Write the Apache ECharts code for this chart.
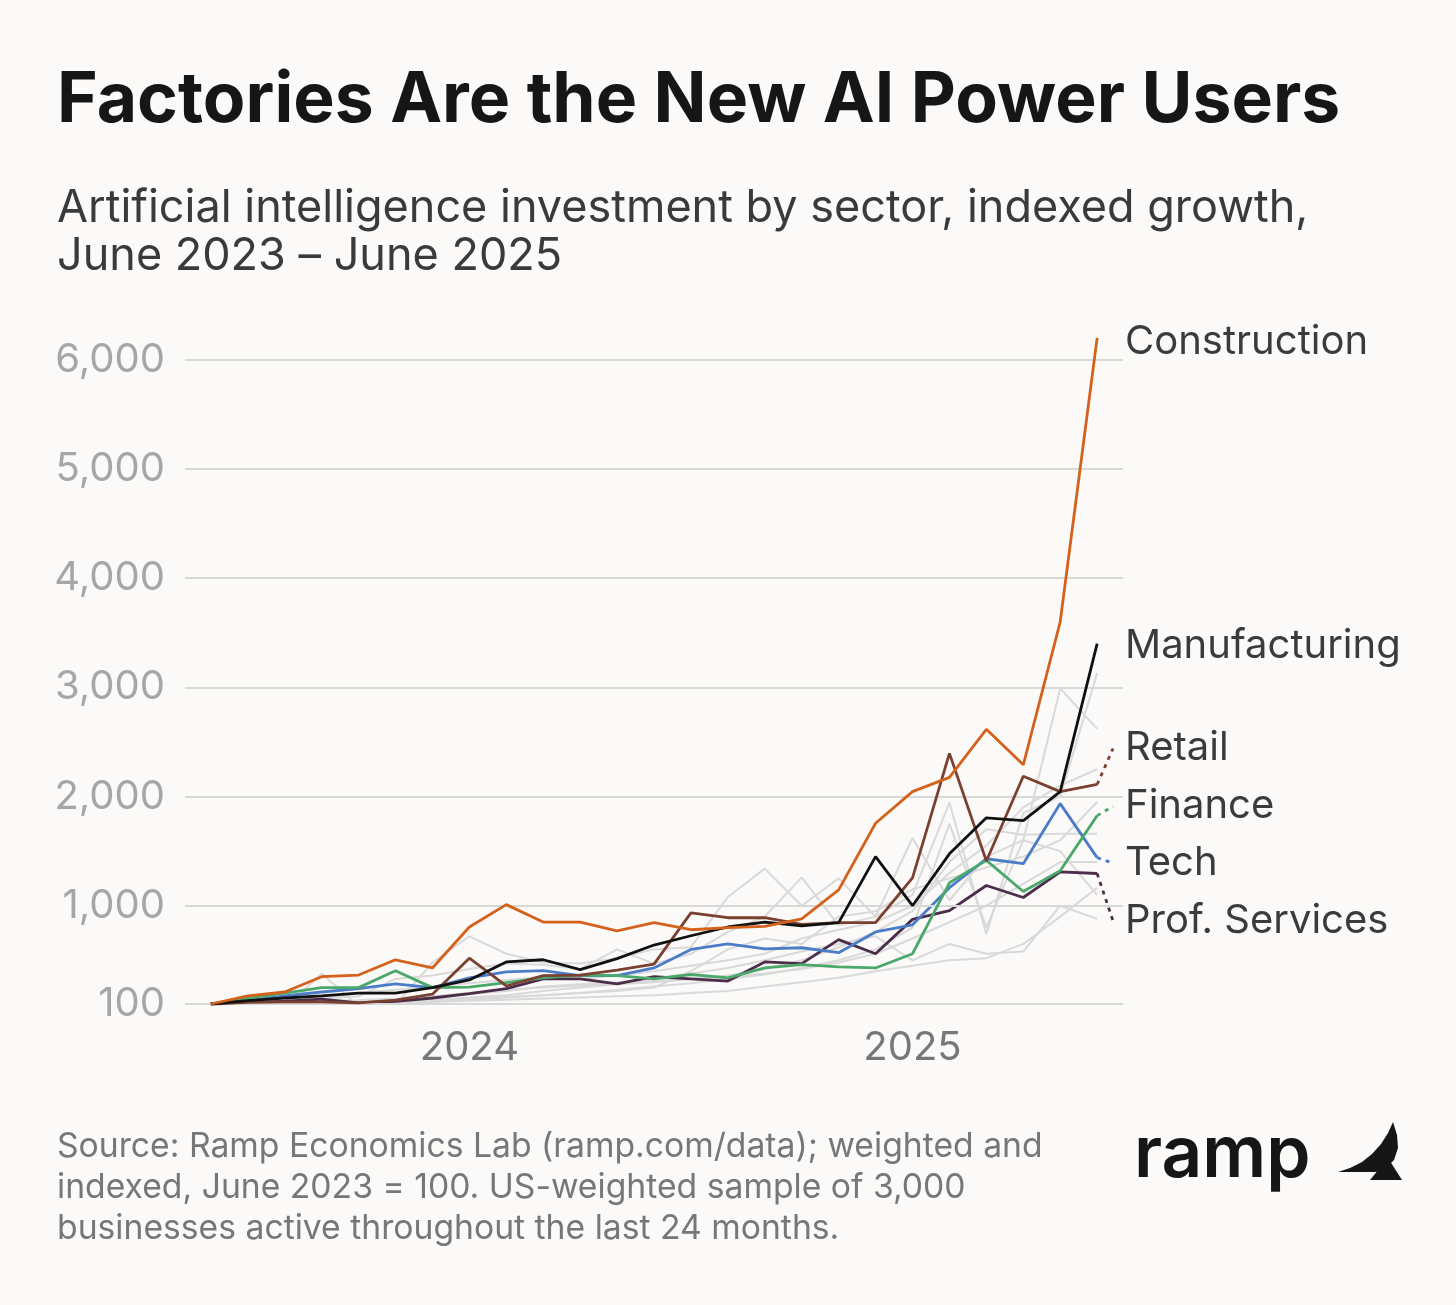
<!DOCTYPE html>
<html><head><meta charset="utf-8">
<script src="https://cdn.jsdelivr.net/npm/echarts@6/dist/echarts.min.js"></script>
<style>html,body{margin:0;padding:0;background:#fbfaf8;}#chart{width:1456px;height:1305px;}</style>
</head><body><div id="chart"></div>
<script>
// ---------- DATA ----------
const months = ['2023-06','2023-07','2023-08','2023-09','2023-10','2023-11','2023-12',
  '2024-01','2024-02','2024-03','2024-04','2024-05','2024-06','2024-07','2024-08','2024-09','2024-10','2024-11','2024-12',
  '2025-01','2025-02','2025-03','2025-04','2025-05','2025-06'];
const yearTickMonths = ['2024-01','2025-01'];
const yearTickLabels = ['2024','2025'];
const yTickValues = [100,1000,2000,3000,4000,5000,6000];

const construction   = [100,175,210,350,365,505,430,805,1010,850,850,770,845,780,800,810,880,1145,1755,2045,2175,2615,2290,3600,6200];
const manufacturing  = [100,130,155,175,200,200,250,320,485,505,415,515,640,725,805,850,815,845,1450,1000,1475,1805,1780,2045,3400];
const retail         = [100,115,120,120,110,135,190,520,265,360,365,410,465,935,890,890,830,845,845,1255,2395,1410,2185,2045,2110];
const finance        = [100,155,200,250,250,405,250,255,295,340,365,360,330,370,340,430,460,440,430,560,1210,1415,1130,1320,1825];
const tech           = [100,130,175,210,240,285,250,340,395,405,360,360,430,600,650,605,615,570,760,825,1165,1430,1385,1935,1440];
const profServices   = [100,110,125,145,110,125,155,195,240,330,330,285,350,330,310,485,470,690,560,875,955,1185,1075,1310,1295];

const otherSector1 = [100,90,60,380,80,90,480,720,560,480,470,520,600,620,1080,1340,1000,1250,900,1620,1050,1450,1600,2990,2620];
const otherSector2 = [100,110,130,150,170,330,360,420,470,460,420,600,470,560,760,900,1260,820,900,1100,1945,740,1850,2000,3130];
const otherSector3 = [100,100,95,100,110,120,140,160,180,220,250,280,300,330,360,420,500,620,760,950,1400,1700,1650,1660,1660];
const otherSector4 = [100,105,110,120,130,140,160,190,220,260,280,300,330,380,430,500,580,650,720,500,650,560,580,1000,880];
const otherSector5 = [100,100,100,105,110,115,120,130,140,150,160,170,180,200,220,260,300,340,400,450,500,520,650,900,1165];
const otherSector6 = [100,115,130,160,200,230,260,290,320,350,330,360,400,450,500,560,700,780,850,1000,1300,1550,1900,2100,2250];
const otherSector7 = [100,110,120,130,135,150,170,200,230,250,270,290,310,330,350,380,420,480,560,700,850,1000,1200,1400,1400];
const otherSector8 = [100,100,105,110,100,110,120,140,160,180,200,230,260,290,330,370,430,500,600,800,1750,800,1600,1500,1100];
const otherSector9 = [100,108,112,118,125,130,140,150,165,180,200,220,250,400,600,700,650,900,950,1150,1250,1350,1450,1600,1950];

// ---------- LAYOUT / STYLE ----------
const highlighted = [
  {name:'Prof. Services', values: profServices,  color:'#4b2d4a', labelAt: 860,  dotted:true},
  {name:'Tech',           values: tech,          color:'#4a7cc8', labelAt: 1390, dotted:true},
  {name:'Finance',        values: finance,       color:'#4aa86a', labelAt: 1910, dotted:true},
  {name:'Retail',         values: retail,        color:'#7b4130', labelAt: 2440, dotted:true},
  {name:'Manufacturing',  values: manufacturing, color:'#111111', labelAt: 3380, dotted:false},
  {name:'Construction',   values: construction,  color:'#d4611c', labelAt: 6160, dotted:false}
];
const others = [otherSector1,otherSector2,otherSector3,otherSector4,otherSector5,otherSector6,otherSector7,otherSector8,otherSector9];
const labelX = 24.43;
const FONT = 'Inter, "Noto Sans", sans-serif';

const toPts = arr => arr.map((v,i)=>[i,v]);
const series = [];

// gridlines
series.push({
  type:'line', data:[[0,100]], symbol:'none', silent:true, z:0, lineStyle:{opacity:0},
  markLine:{silent:true, symbol:'none', animation:false,
    lineStyle:{color:'#d8d8d6', width:2, type:'solid'},
    label:{show:false},
    data: yTickValues.map(v=>({yAxis:v}))}
});
others.forEach((arr,k)=>{
  series.push({type:'line', name:'Other '+(k+1), data:toPts(arr), symbol:'none', z:1, silent:true,
    lineStyle:{color:'#d9d9d9', width:2}});
});
highlighted.forEach((h,k)=>{
  series.push({type:'line', name:h.name, data:toPts(h.values), symbol:'none', z:3+k, silent:true,
    lineStyle:{color:h.color, width:2.8}});
  const last = h.values[h.values.length-1];
  series.push({type:'line', name:h.name+' label', data:[[h.values.length-1,last],[labelX,h.labelAt]],
    symbol:'none', z:3+k, silent:true,
    lineStyle:{color:h.color, width:2.8, type:[4,5], opacity: h.dotted?1:0},
    endLabel:{show:true, formatter:h.name, color:'#3b3b3b', fontSize:40, fontFamily:FONT, distance:12}});
});

const chart = echarts.init(document.getElementById('chart'), null, {renderer:'canvas'});
chart.setOption({
  backgroundColor:'#fbfaf8',
  animation:false,
  grid:{left:185, right:333, top:316, bottom:301, containLabel:false},
  xAxis:{type:'value', min:-0.7, max:24.7,
    axisLine:{show:false}, axisTick:{show:false}, splitLine:{show:false},
    axisLabel:{customValues: yearTickMonths.map(m=>months.indexOf(m)),
      formatter: v => yearTickLabels[yearTickMonths.indexOf(months[Math.round(v)])] || '',
      color:'#777777', fontSize:40, fontFamily:FONT, margin:24}},
  yAxis:{type:'value', min:100, max:6400,
    axisLine:{show:false}, axisTick:{show:false}, splitLine:{show:false},
    axisLabel:{customValues: yTickValues, formatter: v => v.toLocaleString('en-US'),
      color:'#a6a6a6', fontSize:40, fontFamily:FONT, margin:20}},
  series: series,
  graphic:[
    {type:'text', style:{x:57, y:66, text:'Factories Are the New AI Power Users',
      font:'bold 69.6px '+FONT, fill:'#161616', lineHeight:70, textVerticalAlign:'top'}},
    {type:'text', style:{x:57, y:184, text:'Artificial intelligence investment by sector, indexed growth,\nJune 2023 – June 2025',
      font:'45px '+FONT, fill:'#3a3a3a', lineHeight:48, textVerticalAlign:'top'}},
    {type:'text', style:{x:57, y:1126, text:'Source: Ramp Economics Lab (ramp.com/data); weighted and\nindexed, June 2023 = 100. US-weighted sample of 3,000\nbusinesses active throughout the last 24 months.',
      font:'33.7px '+FONT, fill:'#777777', lineHeight:41, textVerticalAlign:'top'}},
    {type:'text', style:{x:1134, y:1191, text:'ramp', font:'600 71px '+FONT, fill:'#161616', textVerticalAlign:'bottom'}},
    {type:'polygon', shape:{points:[[1338,1172],[1350,1168],[1362,1162],[1372,1154],[1381,1144],[1388,1133],[1393,1122],[1397,1135],[1398,1148],[1394,1160],[1386,1168],[1378,1172]]},
      style:{fill:'#161616'}},
    {type:'polygon', shape:{points:[[1370,1180],[1388,1158],[1402,1180]]}, style:{fill:'#161616'}}
  ]
});
</script></body></html>
